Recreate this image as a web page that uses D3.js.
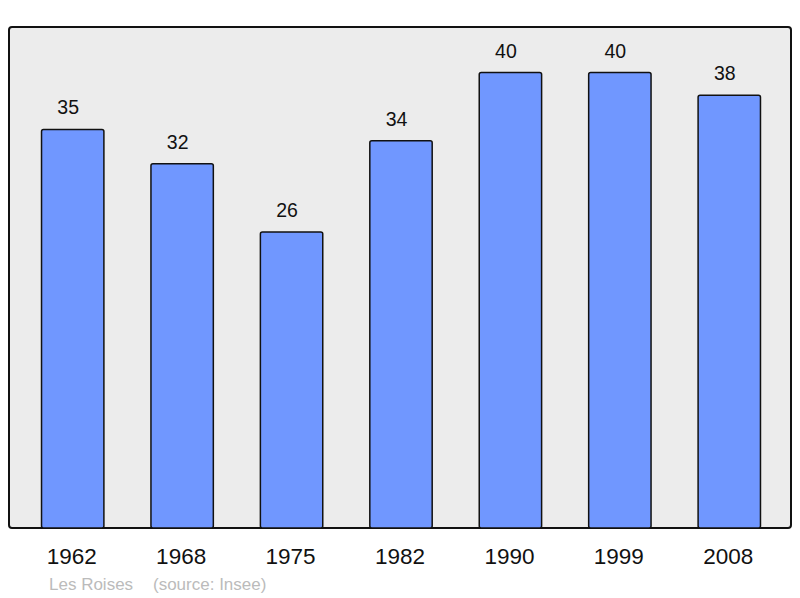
<!DOCTYPE html>
<html>
<head>
<meta charset="utf-8">
<script src="https://cdn.jsdelivr.net/npm/d3@7"></script>
<style>
  body { margin: 0; background: #fff; }
  text { font-family: "Liberation Sans", Arial, sans-serif; }
</style>
</head>
<body>
<div id="chart"></div>
<script>
// population data
const years  = ["1962", "1968", "1975", "1982", "1990", "1999", "2008"];
const values = [35, 32, 26, 34, 40, 40, 38];
const commune = "Les Roises";
const source  = "(source: Insee)";

const width = 800, height = 598;
const frame = { left: 9, top: 27, right: 791, bottom: 528 };

const svg = d3.select("#chart").append("svg")
  .attr("width", width)
  .attr("height", height);

// plot frame
svg.append("rect")
  .attr("x", frame.left)
  .attr("y", frame.top)
  .attr("width", frame.right - frame.left)
  .attr("height", frame.bottom - frame.top)
  .attr("rx", 3)
  .attr("fill", "#ececec")
  .attr("stroke", "#111")
  .attr("stroke-width", 2);

// scales
const x = d3.scaleBand()
  .domain(years)
  .range([18, 784])
  .paddingInner(0.43)
  .paddingOuter(0.215);

const y = d3.scaleLinear()
  .domain([0, 44])
  .range([frame.bottom, frame.top]);

// bars
svg.selectAll("rect.bar")
  .data(values)
  .enter()
  .append("rect")
  .attr("class", "bar")
  .attr("x", (d, i) => x(years[i]))
  .attr("y", d => y(d))
  .attr("width", x.bandwidth())
  .attr("height", d => y(0) - y(d))
  .attr("rx", 2)
  .attr("fill", "#7097ff")
  .attr("stroke", "#111")
  .attr("stroke-width", 1.5);

// value labels (sit a little left of bar centre, as in the original)
svg.selectAll("text.val")
  .data(values)
  .enter()
  .append("text")
  .attr("class", "val")
  .attr("x", (d, i) => x(years[i]) + x.bandwidth() / 2 - 4.5)
  .attr("y", d => y(d) - 15)
  .attr("text-anchor", "middle")
  .attr("font-size", "19.5px")
  .attr("fill", "#111")
  .text(d => d);

// year axis labels
const axis = svg.append("g")
  .attr("transform", `translate(-1,${frame.bottom})`)
  .call(d3.axisBottom(x).tickSize(0).tickPadding(20));
axis.select(".domain").remove();
axis.selectAll("text")
  .attr("font-family", "Liberation Sans, Arial, sans-serif")
  .attr("font-size", "22.5px")
  .attr("fill", "#111");

// footer
svg.append("text")
  .attr("x", 49)
  .attr("y", 590)
  .attr("font-size", "17px")
  .attr("fill", "#bbb")
  .text(commune);

svg.append("text")
  .attr("x", 153)
  .attr("y", 590)
  .attr("font-size", "17px")
  .attr("fill", "#bbb")
  .text(source);
</script>
</body>
</html>
